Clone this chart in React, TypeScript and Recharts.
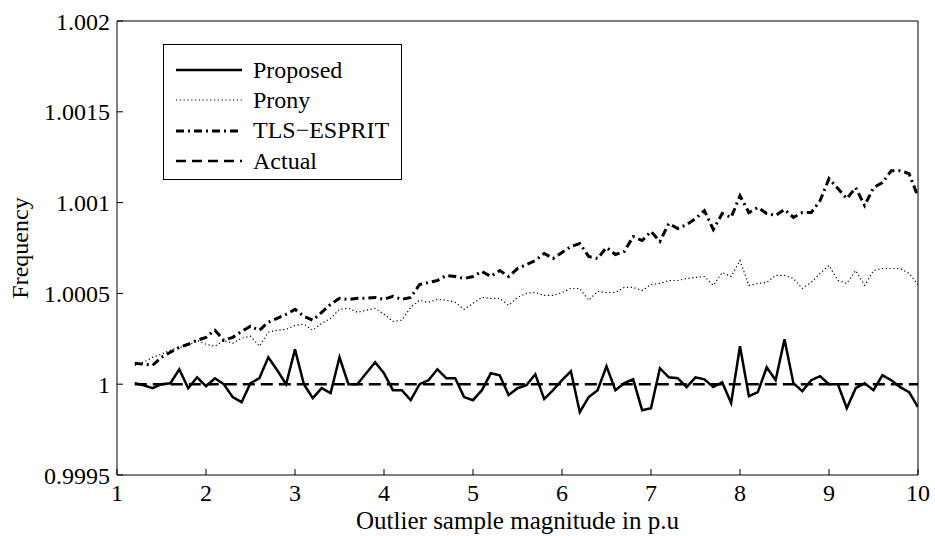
import { LineChart, Line, XAxis, YAxis, Legend } from 'recharts';

// outlier sample magnitude (p.u)
const magnitude = [
  1.2, 1.3, 1.4, 1.5, 1.6, 1.7, 1.8, 1.9, 2.0, 2.1,
  2.2, 2.3, 2.4, 2.5, 2.6, 2.7, 2.8, 2.9, 3.0, 3.1,
  3.2, 3.3, 3.4, 3.5, 3.6, 3.7, 3.8, 3.9, 4.0, 4.1,
  4.2, 4.3, 4.4, 4.5, 4.6, 4.7, 4.8, 4.9, 5.0, 5.1,
  5.2, 5.3, 5.4, 5.5, 5.6, 5.7, 5.8, 5.9, 6.0, 6.1,
  6.2, 6.3, 6.4, 6.5, 6.6, 6.7, 6.8, 6.9, 7.0, 7.1,
  7.2, 7.3, 7.4, 7.5, 7.6, 7.7, 7.8, 7.9, 8.0, 8.1,
  8.2, 8.3, 8.4, 8.5, 8.6, 8.7, 8.8, 8.9, 9.0, 9.1,
  9.2, 9.3, 9.4, 9.5, 9.6, 9.7, 9.8, 9.9, 10.0,
];

const proposed = [
  1.0000055, 0.9999945, 0.999978, 1.0, 1.0000055, 1.000082, 0.999978, 1.000038, 0.999989, 1.000033,
  1.0, 0.999929, 0.999901, 1.0000055, 1.000033, 1.000148, 1.000077, 1.0, 1.000192, 1.0,
  0.999923, 0.999978, 0.999951, 1.000148, 1.0, 1.0, 1.00006, 1.000121, 1.00006, 0.999967,
  0.999967, 0.999912, 1.0, 1.000022, 1.000082, 1.000033, 1.000033, 0.999929, 0.999912, 0.999967,
  1.00006, 1.000049, 0.99994, 0.999978, 0.9999945, 1.000055, 0.999918, 0.999967, 1.000022, 1.000071,
  0.999846, 0.999929, 0.999967, 1.000099, 0.999967, 1.0000055, 1.000027, 0.999857, 0.999868, 1.000088,
  1.000038, 1.000033, 0.999984, 1.000038, 1.000027, 0.999984, 1.000011, 0.999896, 1.000209, 0.999934,
  0.999956, 1.000093, 1.000022, 1.000247, 1.0000055, 0.999962, 1.000022, 1.000044, 1.0, 1.0,
  0.999868, 0.999978, 1.0000055, 0.999967, 1.000049, 1.000022, 0.999984, 0.999956, 0.999874,
];

const prony = [
  1.000104, 1.000121, 1.000148, 1.000165, 1.000187, 1.000203, 1.000214, 1.000242, 1.00022, 1.000209,
  1.000242, 1.000225, 1.000253, 1.000264, 1.000209, 1.000286, 1.000297, 1.000302, 1.000324, 1.00033,
  1.000297, 1.000335, 1.000363, 1.000412, 1.000418, 1.000396, 1.000407, 1.000418, 1.000385, 1.000346,
  1.000352, 1.000423, 1.000462, 1.000451, 1.000467, 1.000462, 1.000451, 1.000412, 1.000445, 1.000478,
  1.000473, 1.000473, 1.000434, 1.000478, 1.0005, 1.000505, 1.000489, 1.000489, 1.000505, 1.000527,
  1.000527, 1.000462, 1.000511, 1.000505, 1.000505, 1.000533, 1.000533, 1.000516, 1.000549, 1.000555,
  1.000571, 1.000571, 1.000582, 1.000588, 1.000593, 1.000544, 1.000615, 1.000593, 1.000681, 1.000544,
  1.000555, 1.00056, 1.000599, 1.000599, 1.000582, 1.000527, 1.00056, 1.00061, 1.000654, 1.000571,
  1.000555, 1.000626, 1.000544, 1.000626, 1.000637, 1.000637, 1.000637, 1.00061, 1.000549,
];

const tlsEsprit = [
  1.000115, 1.00011, 1.000104, 1.000148, 1.000176, 1.000203, 1.00022, 1.000242, 1.000258, 1.000297,
  1.000242, 1.000258, 1.000291, 1.000319, 1.000297, 1.000341, 1.000363, 1.000385, 1.000412, 1.000374,
  1.000352, 1.000396, 1.00044, 1.000473, 1.000467, 1.000473, 1.000473, 1.000478, 1.000467, 1.000484,
  1.000467, 1.000478, 1.000549, 1.00056, 1.000571, 1.000599, 1.000593, 1.000582, 1.000593, 1.000621,
  1.000593, 1.000626, 1.000593, 1.000637, 1.000659, 1.000681, 1.00072, 1.000692, 1.000725, 1.000758,
  1.000775, 1.000703, 1.000692, 1.000753, 1.000714, 1.000731, 1.000813, 1.000791, 1.000841, 1.000786,
  1.000885, 1.000857, 1.000879, 1.000912, 1.000956, 1.000852, 1.00094, 1.000918, 1.001038, 1.000945,
  1.000973, 1.00094, 1.000929, 1.000962, 1.000918, 1.000945, 1.000945, 1.001011, 1.001132, 1.001077,
  1.001022, 1.001082, 1.000984, 1.001082, 1.00111, 1.001176, 1.001176, 1.001159, 1.001033,
];

// actual frequency is flat at 1 over the whole range
const actual = [
  { magnitude: 1.2, actual: 1 },
  { magnitude: 10, actual: 1 },
];

const xTicks = [1, 2, 3, 4, 5, 6, 7, 8, 9, 10];
const yTicks = [0.9995, 1, 1.0005, 1.001, 1.0015, 1.002];

const rows = magnitude.map((m, i) => ({
  magnitude: m,
  proposed: proposed[i],
  prony: prony[i],
  tls: tlsEsprit[i],
}));

const FONT = '"Liberation Serif", "Times New Roman", serif';

const legendItems = [
  { name: 'Proposed', width: 2.5, dash: undefined as string | undefined },
  { name: 'Prony', width: 1.2, dash: '1.2 2.6' },
  { name: 'TLS\u2212ESPRIT', width: 3, dash: '8 4 2 4' },
  { name: 'Actual', width: 2.5, dash: '10 6' },
];

function LegendBox() {
  return (
    <div
      style={{
        border: '1px solid #000',
        background: '#fff',
        padding: '10px 12px 3px 12px',
        fontFamily: FONT,
        fontSize: 24,
        color: '#000',
      }}
    >
      {legendItems.map((it) => (
        <div key={it.name} style={{ display: 'flex', alignItems: 'center', height: 30.3 }}>
          <svg width={66} height={10} style={{ marginRight: 11 }}>
            <line x1={0} y1={5} x2={66} y2={5} stroke="#000" strokeWidth={it.width} strokeDasharray={it.dash} />
          </svg>
          <span>{it.name}</span>
        </div>
      ))}
    </div>
  );
}

function YTitle(props: any) {
  const vb = props.viewBox || { x: 0, y: 0, width: 0, height: 0 };
  const cx = vb.x + 28;
  const cy = vb.y + vb.height / 2;
  return (
    <text
      x={0}
      y={0}
      transform={`translate(${cx}, ${cy}) rotate(-90)`}
      textAnchor="middle"
      fontFamily={FONT}
      fontSize={24}
      fill="#000"
    >
      Frequency
    </text>
  );
}

export default function App() {
  const tickStyle = { fontFamily: FONT, fontSize: 24, fill: '#000' };
  return (
    <div style={{ width: 935, height: 536, background: '#fff', position: 'relative' }}>
      <style>{'body{margin:0;background:#fff}'}</style>
      <LineChart width={935} height={536} data={rows} margin={{ top: 0, right: 0, bottom: 0, left: 0 }}>
        <XAxis
          xAxisId="b"
          type="number"
          dataKey="magnitude"
          domain={[1, 10]}
          ticks={xTicks}
          allowDataOverflow
          height={61}
          stroke="#000"
          tick={tickStyle}
          tickSize={-6}
          tickMargin={15}
          label={{
            value: 'Outlier sample magnitude in p.u',
            position: 'insideBottom',
            offset: 7,
            style: { fontFamily: FONT, fontSize: 25, fill: '#000' },
          }}
        />
        <XAxis
          xAxisId="t"
          orientation="top"
          type="number"
          dataKey="magnitude"
          domain={[1, 10]}
          ticks={xTicks}
          allowDataOverflow
          height={21}
          stroke="#000"
          tick={false}
          tickSize={-6}
        />
        <YAxis
          yAxisId="l"
          type="number"
          domain={[0.9995, 1.002]}
          ticks={yTicks}
          allowDataOverflow
          width={117}
          stroke="#000"
          tick={tickStyle}
          tickSize={-6}
          tickMargin={13}
          label={{ content: <YTitle /> }}
        />
        <YAxis
          yAxisId="r"
          orientation="right"
          type="number"
          domain={[0.9995, 1.002]}
          ticks={yTicks}
          allowDataOverflow
          width={17}
          stroke="#000"
          tick={false}
          tickSize={-6}
        />
        <Legend
          layout="vertical"
          align="center"
          verticalAlign="middle"
          content={<LegendBox />}
          wrapperStyle={{ left: 163, top: 44, width: 'auto', height: 'auto' }}
        />
        <Line
          xAxisId="b"
          yAxisId="l"
          dataKey="prony"
          name="Prony"
          stroke="#000"
          strokeWidth={1.2}
          strokeDasharray="1.2 2.6"
          dot={false}
          isAnimationActive={false}
        />
        <Line
          xAxisId="b"
          yAxisId="l"
          dataKey="tls"
          name="TLS-ESPRIT"
          stroke="#000"
          strokeWidth={3}
          strokeDasharray="8 4 2 4"
          dot={false}
          isAnimationActive={false}
        />
        <Line
          xAxisId="b"
          yAxisId="l"
          data={actual}
          dataKey="actual"
          name="Actual"
          stroke="#000"
          strokeWidth={2.5}
          strokeDasharray="12 6"
          dot={false}
          isAnimationActive={false}
        />
        <Line
          xAxisId="b"
          yAxisId="l"
          dataKey="proposed"
          name="Proposed"
          stroke="#000"
          strokeWidth={2.5}
          dot={false}
          isAnimationActive={false}
        />
      </LineChart>
    </div>
  );
}
